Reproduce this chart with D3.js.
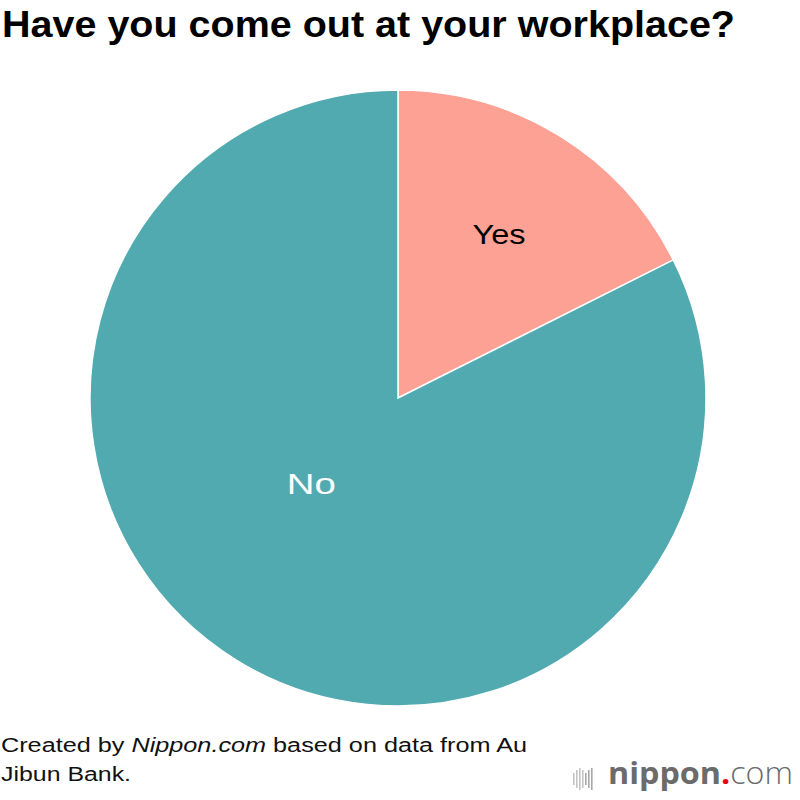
<!DOCTYPE html>
<html>
<head>
<meta charset="utf-8">
<script src="https://cdn.jsdelivr.net/npm/d3@7"></script>
<style>
  body { margin: 0; background: #fff; }
  svg { display: block; font-family: "Liberation Sans", Arial, sans-serif; }
</style>
</head>
<body>
<svg id="chart" width="800" height="800"></svg>
<script>
var categories = ["Yes", "No"];
var values = [17.6, 82.4];
var colors = ["#fea195", "#52aab1"];
var labelColors = ["#000", "#fff"];

var svg = d3.select("#chart");

svg.append("text")
    .attr("x", 2).attr("y", 37)
    .attr("font-size", 36).attr("font-weight", "bold")
    .attr("textLength", 733).attr("lengthAdjust", "spacingAndGlyphs")
    .text("Have you come out at your workplace?");

var cx = 398, cy = 398, r = 308;
var g = svg.append("g").attr("transform", "translate(" + cx + "," + cy + ")");

var pie = d3.pie().sort(null).value(function(d) { return d; });
var arc = d3.arc().innerRadius(0).outerRadius(r);

var arcs = pie(values);

g.selectAll("path")
    .data(arcs)
    .enter().append("path")
    .attr("d", arc)
    .attr("fill", function(d, i) { return colors[i]; })
    .attr("stroke", "#fff")
    .attr("stroke-width", 1.5);

// label placement (radius fraction, angle shift in radians, font size, width)
var labelR = [0.625, 0.395];
var labelShift = [0, 0.24];
var labelSize = [27, 30];
var labelW = [53, 49];

g.selectAll("text.lbl")
    .data(arcs)
    .enter().append("text")
    .attr("class", "lbl")
    .attr("transform", function(d, i) {
      var a = (d.startAngle + d.endAngle) / 2 + labelShift[i];
      var rr = r * labelR[i];
      return "translate(" + (Math.sin(a) * rr) + "," + (-Math.cos(a) * rr) + ")";
    })
    .attr("text-anchor", "middle")
    .attr("dy", ".35em")
    .attr("font-size", function(d, i) { return labelSize[i]; })
    .attr("textLength", function(d, i) { return labelW[i]; })
    .attr("lengthAdjust", "spacingAndGlyphs")
    .attr("fill", function(d, i) { return labelColors[i]; })
    .text(function(d, i) { return categories[i]; });

// source note
var note = svg.append("text").attr("x", 1).attr("y", 752).attr("font-size", 20).attr("fill", "#111")
    .attr("textLength", 526).attr("lengthAdjust", "spacingAndGlyphs");
note.append("tspan").text("Created by ");
note.append("tspan").attr("font-style", "italic").text("Nippon.com");
note.append("tspan").text(" based on data from Au");
svg.append("text").attr("x", 1).attr("y", 781).attr("font-size", 20).attr("fill", "#111")
    .attr("textLength", 130).attr("lengthAdjust", "spacingAndGlyphs")
    .text("Jibun Bank.");

// logo
var logo = svg.append("g").attr("transform", "translate(573,779)");
var barH = [12, 18, 22, 18, 12, 18, 22];
barH.forEach(function(h, i) {
  logo.append("rect")
      .attr("x", i * 3).attr("y", -h / 2)
      .attr("width", 1.6).attr("height", h)
      .attr("fill", i < 4 ? "#c4c4c4" : "#a8a8a8");
});
var lt = svg.append("text").attr("x", 608).attr("y", 784)
    .attr("font-family", "'Open Sans', sans-serif").attr("font-size", 31).attr("fill", "#6b6b6b")
    .attr("textLength", 185).attr("lengthAdjust", "spacingAndGlyphs");
lt.append("tspan").attr("font-weight", "bold").text("nippon");
lt.append("tspan").attr("fill", "#e60012").attr("font-weight", "bold").text(".");
lt.append("tspan").attr("font-weight", "300").text("com");
</script>
</body>
</html>
